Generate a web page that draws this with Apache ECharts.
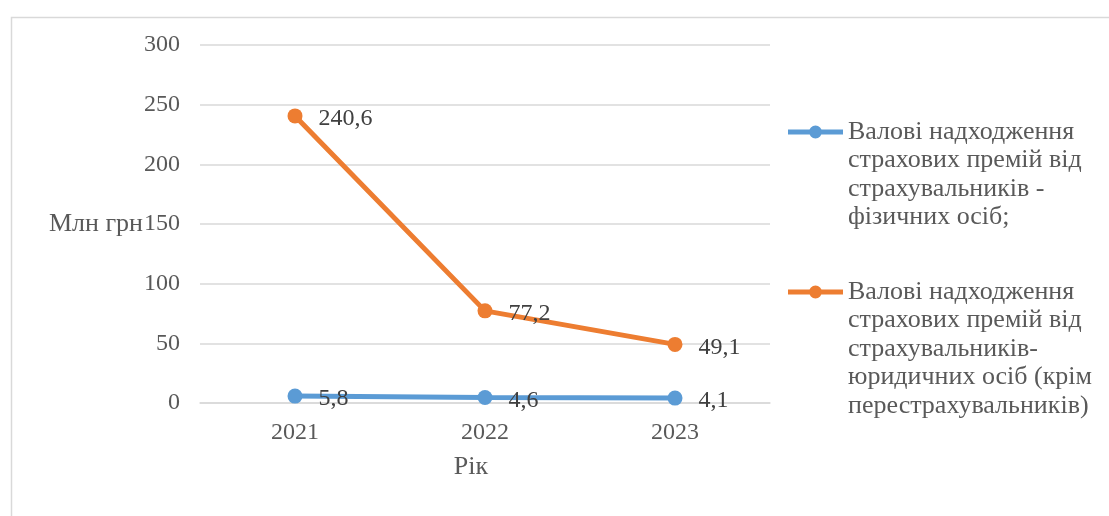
<!DOCTYPE html>
<html>
<head>
<meta charset="utf-8">
<script src="https://cdn.jsdelivr.net/npm/echarts@6/dist/echarts.min.js"></script>
<style>
  html, body { margin: 0; padding: 0; background: #ffffff; }
  #chart { width: 1109px; height: 516px; }
</style>
</head>
<body>
<div id="chart"></div>
<script>
const categories = ['2021', '2022', '2023'];
const seriesNames = [
  'Валові надходження\nстрахових премій від\nстрахувальників -\nфізичних осіб;',
  'Валові надходження\nстрахових премій від\nстрахувальників-\nюридичних осіб (крім\nперестрахувальників)'
];
const individuals = [5.8, 4.6, 4.1];
const legalEntities = [240.6, 77.2, 49.1];
const yTicks = { min: 0, max: 300, interval: 50 };
const yAxisName = 'Млн грн';
const xAxisName = 'Рік';

const FONT = "'Liberation Serif', 'Times New Roman', serif";
const LH = 28.5;
const ICON_W = 55;
const chart = echarts.init(document.getElementById('chart'), null, { renderer: 'canvas' });

// Legend icon: line + dot aligned with the first text line; invisible
// zero-area anchors make the icon box span the whole text block.
function iconPath(h) {
  const c = LH / 2;
  return 'path://M0,0L0.001,0Z' +
    'M0,' + (c - 2.5) + 'L' + ICON_W + ',' + (c - 2.5) + 'L' + ICON_W + ',' + (c + 2.5) + 'L0,' + (c + 2.5) + 'Z' +
    'M' + (ICON_W / 2 + 6.5) + ',' + c + 'A6.5,6.5,0,1,1,' + (ICON_W / 2 - 6.5) + ',' + c +
    'A6.5,6.5,0,1,1,' + (ICON_W / 2 + 6.5) + ',' + c + 'Z' +
    'M0,' + h + 'L0.001,' + h + 'Z';
}

function legendFor(idx, iconCenterY) {
  const n = seriesNames[idx].split('\n').length;
  const h = n * LH;
  return {
    orient: 'vertical',
    left: 788,
    top: iconCenterY - LH / 2,
    padding: 0,
    itemWidth: ICON_W,
    itemHeight: h,
    itemGap: 0,
    selectedMode: false,
    icon: iconPath(h),
    itemStyle: { borderWidth: 0 },
    data: [seriesNames[idx]],
    textStyle: { fontFamily: FONT, fontSize: 26, color: '#595959', lineHeight: LH }
  };
}

const labelFmt = p => String(p.value).replace('.', ',');

chart.setOption({
  backgroundColor: '#ffffff',
  animation: false,
  graphic: [{
    type: 'rect',
    left: 9, top: 15,
    shape: { width: 1120, height: 520 },
    style: { fill: 'none', stroke: '#d9d9d9', lineWidth: 1.5 },
    silent: true
  }],
  grid: { left: 200, right: 339, top: 45, bottom: 113, containLabel: false },
  legend: [legendFor(0, 132), legendFor(1, 292)],
  xAxis: {
    type: 'category',
    data: categories,
    boundaryGap: true,
    name: xAxisName,
    nameLocation: 'middle',
    nameGap: 51,
    nameMoveOverlap: false,
    nameTextStyle: { fontFamily: FONT, fontSize: 26, color: '#595959', padding: [0, 28, 0, 0] },
    axisLine: { show: true, lineStyle: { color: '#d9d9d9', width: 1.5 } },
    axisTick: { show: false },
    axisLabel: { fontFamily: FONT, fontSize: 24, color: '#595959', margin: 18 }
  },
  yAxis: {
    type: 'value',
    min: yTicks.min, max: yTicks.max, interval: yTicks.interval,
    name: yAxisName,
    nameLocation: 'middle',
    nameRotate: 0,
    nameGap: 57,
    nameMoveOverlap: false,
    nameTextStyle: { fontFamily: FONT, fontSize: 26, color: '#595959' },
    axisLine: { show: false },
    axisTick: { show: false },
    splitLine: { show: true, lineStyle: { color: '#d9d9d9', width: 1.5 } },
    axisLabel: { fontFamily: FONT, fontSize: 24, color: '#595959', margin: 20 }
  },
  series: [
    {
      name: seriesNames[0],
      type: 'line',
      data: individuals,
      symbol: 'circle',
      symbolSize: 15,
      color: '#5b9bd5',
      lineStyle: { width: 5, color: '#5b9bd5' },
      itemStyle: { color: '#5b9bd5' },
      label: { show: true, position: 'right', distance: 16, offset: [0, 3],
               fontFamily: FONT, fontSize: 24, color: '#404040', formatter: labelFmt }
    },
    {
      name: seriesNames[1],
      type: 'line',
      data: legalEntities,
      symbol: 'circle',
      symbolSize: 15,
      color: '#ed7d31',
      lineStyle: { width: 5, color: '#ed7d31' },
      itemStyle: { color: '#ed7d31' },
      label: { show: true, position: 'right', distance: 16, offset: [0, 3],
               fontFamily: FONT, fontSize: 24, color: '#404040', formatter: labelFmt }
    }
  ]
});
</script>
</body>
</html>
